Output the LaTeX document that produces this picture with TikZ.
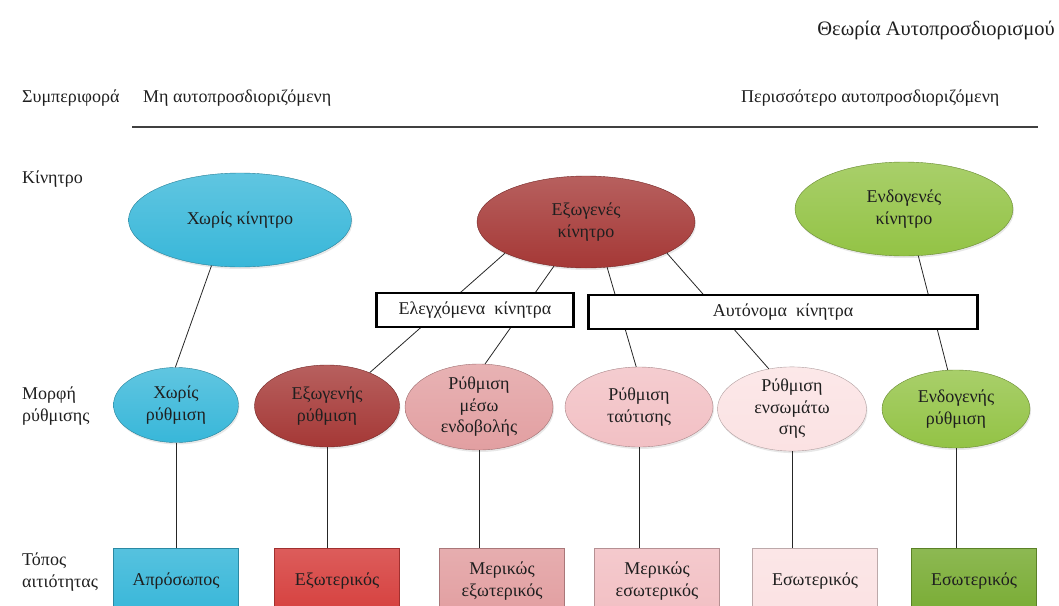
\documentclass[tikz,border=0pt]{standalone}
\usepackage{fontspec}
\setmainfont{Liberation Serif}
\usetikzlibrary{shapes.geometric,shadows}

\definecolor{aqua}{HTML}{38B7D9}
\definecolor{wine}{HTML}{A53836}
\definecolor{crimson}{HTML}{D6403E}
\definecolor{dusty}{HTML}{E29FA1}
\definecolor{rose}{HTML}{F2C0C4}
\definecolor{blush}{HTML}{FBE2E3}
\definecolor{lime}{HTML}{93C345}
\definecolor{moss}{HTML}{79AC34}

\tikzset{
  oval/.style={ellipse, draw=#1!70!black, top color=#1!80!white, bottom color=#1,
    inner sep=0pt, align=center, drop shadow={opacity=0.18,shadow xshift=1pt,shadow yshift=-2pt}},
  tile/.style={rectangle, draw=#1!75!black, top color=#1!85!white, bottom color=#1,
    minimum width=125pt, minimum height=66pt, inner sep=0pt, align=center},
  frame/.style={rectangle, draw, line width=2.2pt, fill=white, minimum height=34pt, inner sep=0pt},
  lbl/.style={anchor=west, align=left, inner sep=0pt},
  link/.style={draw=black!85, line width=0.8pt},
}

\begin{document}
\begin{tikzpicture}[x=1pt,y=-1pt,font=\fontsize{18}{21.5}\selectfont,text=black!88]
  \useasboundingbox (0,0) rectangle (1059,605);
  \clip (0,0) rectangle (1059,605);

  % headings
  \node[anchor=east, inner sep=0pt, font=\fontsize{20.5}{24}\selectfont] (Title) at (1055,30) {Θεωρία Αυτοπροσδιορισμού};
  \node[lbl] (Behav) at (22,98) {Συμπεριφορά};
  \node[lbl] (NotSelf) at (143,98) {Μη αυτοπροσδιοριζόμενη};
  \node[lbl] (MoreSelf) at (741,98) {Περισσότερο αυτοπροσδιοριζόμενη};
  \draw[line width=1.5pt, black!75] (132,127) -- (1038,127);
  \node[lbl] (Motive) at (22,179) {Κίνητρο};
  \node[lbl] (Form) at (22,406) {Μορφή\\ρύθμισης};
  \node[lbl] (Locus) at (22,572) {Τόπος\\αιτιότητας};

  % motivation
  \node[oval=aqua, minimum width=223pt, minimum height=94pt] (NoMot) at (240,220) {Χωρίς κίνητρο};
  \node[oval=wine, minimum width=218pt, minimum height=92pt] (ExtMot) at (586,222) {Εξωγενές\\κίνητρο};
  \node[oval=lime, minimum width=218pt, minimum height=94pt] (IntMot) at (904,209) {Ενδογενές\\κίνητρο};

  % regulation
  \node[oval=aqua, minimum width=125pt, minimum height=75pt] (NoReg) at (176,405) {Χωρίς\\ρύθμιση};
  \node[oval=wine, minimum width=145pt, minimum height=82pt] (ExtReg) at (327,406) {Εξωγενής\\ρύθμιση};
  \node[oval=dusty, minimum width=148pt, minimum height=86pt] (IntroReg) at (479,407) {Ρύθμιση\\μέσω\\ενδοβολής};
  \node[oval=rose, minimum width=148pt, minimum height=80pt] (IdReg) at (639,407) {Ρύθμιση\\ταύτισης};
  \node[oval=blush, minimum width=149pt, minimum height=82pt] (IntegReg) at (792,409) {Ρύθμιση\\ενσωμάτω\\σης};
  \node[oval=lime, minimum width=148pt, minimum height=78pt] (IntReg) at (956,409) {Ενδογενής\\ρύθμιση};

  \path[link]
    (NoMot.238) edge (NoReg.91)
    (ExtMot.201) edge (ExtReg.38)
    (ExtMot.234) edge (IntroReg.82)
    (ExtMot.295) edge (IdReg.94)
    (ExtMot.339) edge (IntegReg.120)
    (IntMot.287) edge (IntReg.102);

  % groups
  \node[frame, minimum width=197pt] (Ctrl) at (475,310) {Ελεγχόμενα~ κίνητρα};
  \node[frame, minimum width=389pt] (Auto) at (783,312) {Αυτόνομα~ κίνητρα};

  % locus of causality
  \node[tile=aqua] (Imp) at (176,581) {Απρόσωπος};
  \node[tile=crimson] (Ext) at (337,581) {Εξωτερικός};
  \node[tile=dusty] (SomeExt) at (502,581) {Μερικώς\\εξωτερικός};
  \node[tile=rose] (SomeInt) at (657,581) {Μερικώς\\εσωτερικός};
  \node[tile=blush] (InnA) at (815,581) {Εσωτερικός};
  \node[tile=moss] (InnB) at (974,581) {Εσωτερικός};

  \foreach \a/\b in {NoReg/Imp,ExtReg/Ext,IntroReg/SomeExt,IdReg/SomeInt,IntegReg/InnA,IntReg/InnB}
    \draw[link] (\a.south) -- (\a.south |- \b.north);
\end{tikzpicture}
\end{document}
